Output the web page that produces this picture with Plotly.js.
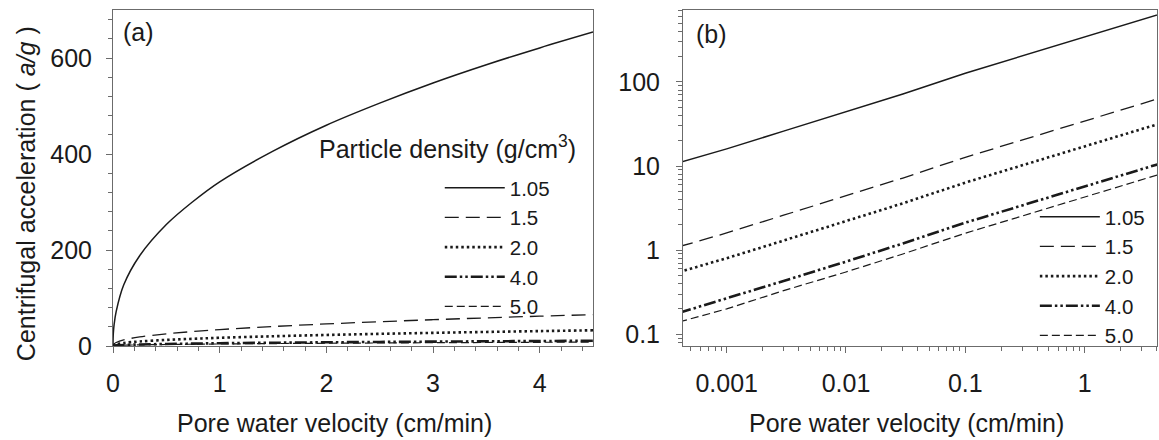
<!DOCTYPE html>
<html>
<head>
<meta charset="utf-8">
<script src="https://cdn.plot.ly/plotly-3.0.1.min.js"></script>
<style>
html,body{margin:0;padding:0;background:#fff;}
#chart{width:1159px;height:440px;}
</style>
</head>
<body>
<div id="chart"></div>
<script>
// Pore water velocity (cm/min)
var velocity = [0, 0.0004, 0.001, 0.003, 0.01, 0.03, 0.1, 0.25, 0.5, 0.75, 1, 1.5, 2, 2.5, 3, 3.5, 4, 4.5];
// Centrifugal acceleration (a/g) for each particle density (g/cm3)
var acc105 = [0, 11, 16, 26, 44, 72, 127, 188, 253, 301, 342, 406, 460, 506, 548, 586, 621, 654];
var acc15  = [0, 1.1, 1.6, 2.6, 4.4, 7.2, 12.7, 18.8, 25.3, 30.1, 34.2, 40.6, 46, 50.6, 54.8, 58.6, 62.1, 65.4];
var acc20  = [0, 0.55, 0.8, 1.3, 2.2, 3.6, 6.35, 9.4, 12.65, 15.05, 17.1, 20.3, 23, 25.3, 27.4, 29.3, 31.05, 32.7];
var acc40  = [0, 0.18, 0.27, 0.43, 0.73, 1.2, 2.12, 3.13, 4.22, 5.02, 5.7, 6.77, 7.67, 8.43, 9.13, 9.77, 10.35, 10.9];
var acc50  = [0, 0.14, 0.2, 0.33, 0.55, 0.9, 1.59, 2.35, 3.16, 3.76, 4.28, 5.08, 5.75, 6.33, 6.85, 7.33, 7.76, 8.18];
var densityLabels = ["1.05", "1.5", "2.0", "4.0", "5.0"];

// Tick labels
var xLogTickVals = [0.001, 0.01, 0.1, 1];
var xLogTickText = ["0.001", "0.01", "0.1", "1"];
var yLogTickVals = [0.1, 1, 10, 100];
var yLogTickText = ["0.1", "1", "10", "100"];

var series = [acc105, acc15, acc20, acc40, acc50];
var styles = [
  {width: 1.5, dash: "solid"},
  {width: 1.3, dash: "14px,7px"},
  {width: 2.6, dash: "2.5px,3px"},
  {width: 2.6, dash: "12px,3px,2.5px,3px,2.5px,3px"},
  {width: 1.2, dash: "8px,4px"}
];
var ink = "#1a1a1a";
var frame = "#6b6b6b";
var fam = "Liberation Sans, Arial, sans-serif";

var traces = [];
for (var i = 0; i < series.length; i++) {
  traces.push({
    x: velocity, y: series[i], type: "scatter", mode: "lines",
    name: densityLabels[i], xaxis: "x", yaxis: "y", legend: "legend",
    line: {color: ink, width: styles[i].width, dash: styles[i].dash, shape: "spline", smoothing: 1},
    hoverinfo: "skip"
  });
}
for (var j = 0; j < series.length; j++) {
  traces.push({
    x: velocity.slice(1), y: series[j].slice(1), type: "scatter", mode: "lines",
    name: densityLabels[j], xaxis: "x2", yaxis: "y2", legend: "legend2",
    line: {color: ink, width: styles[j].width, dash: styles[j].dash},
    hoverinfo: "skip"
  });
}

function logMinor(lo, hi) {
  var out = [];
  for (var e = lo; e <= hi; e++) {
    for (var m = 2; m <= 9; m++) out.push(m * Math.pow(10, e));
  }
  return out;
}

var tickFont = {family: fam, size: 25, color: ink};
var titleFont = {family: fam, size: 25, color: ink};
var legFont = {family: fam, size: 20.5, color: ink};

var common = {
  showline: true, linecolor: frame, linewidth: 1, mirror: true,
  ticks: "outside", ticklen: 6, tickwidth: 1, tickcolor: frame,
  showgrid: false, zeroline: false, tickfont: tickFont
};

var layout = {
  width: 1159, height: 440,
  margin: {l: 113, r: 2, t: 10, b: 94},
  paper_bgcolor: "#fff", plot_bgcolor: "#fff",
  showlegend: true,
  xaxis: Object.assign({}, common, {
    domain: [0, 0.4598], range: [0, 4.5], dtick: 1, tick0: 0,
    minor: {dtick: 0.2, ticklen: 4, tickcolor: frame, ticks: "outside", showgrid: false},
    ticklabelstandoff: 9
  }),
  yaxis: Object.assign({}, common, {
    domain: [0, 1], range: [0, 700], dtick: 200, tick0: 0,
    minor: {dtick: 40, ticklen: 4, tickcolor: frame, ticks: "outside", showgrid: false},
    ticklabelstandoff: 9
  }),
  xaxis2: Object.assign({}, common, {
    anchor: "y2", domain: [0.546, 1], type: "log", range: [-3.366, 0.607],
    tickmode: "array", tickvals: xLogTickVals, ticktext: xLogTickText,
    minor: {tickmode: "array", tickvals: logMinor(-4, 0), ticklen: 4, tickcolor: frame, ticks: "outside", showgrid: false},
    ticklabelstandoff: 9
  }),
  yaxis2: Object.assign({}, common, {
    anchor: "x2", domain: [0, 1], type: "log", range: [-1.14, 2.855],
    tickmode: "array", tickvals: yLogTickVals, ticktext: yLogTickText,
    minor: {tickmode: "array", tickvals: logMinor(-2, 2), ticklen: 4, tickcolor: frame, ticks: "outside", showgrid: false},
    ticklabelstandoff: 11
  }),
  legend: {
    x: 0.313, xanchor: "left", y: 0.5298, yanchor: "top",
    bgcolor: "rgba(0,0,0,0)", borderwidth: 0, font: legFont,
    itemwidth: 60, tracegroupgap: 0
  },
  legend2: {
    x: 0.883, xanchor: "left", y: 0.4435, yanchor: "top",
    bgcolor: "rgba(0,0,0,0)", borderwidth: 0, font: legFont,
    itemwidth: 60, tracegroupgap: 0
  },
  annotations: [
    {text: "(a)", xref: "paper", yref: "paper", x: 0.0076, y: 0.935, xanchor: "left", yanchor: "middle",
     showarrow: false, font: titleFont},
    {text: "(b)", xref: "paper", yref: "paper", x: 0.5565, y: 0.929, xanchor: "left", yanchor: "middle",
     showarrow: false, font: titleFont},
    {text: "Particle density (g/cm<sup>3</sup>)", xref: "paper", yref: "paper", x: 0.1954, y: 0.592,
     xanchor: "left", yanchor: "middle", showarrow: false, font: titleFont},
    {text: "Centrifugal acceleration ( <i>a/g</i> )", xref: "paper", yref: "paper", x: -0.0833, y: 0.452,
     xanchor: "center", yanchor: "middle", textangle: -90, showarrow: false, font: titleFont},
    {text: "Pore water velocity (cm/min)", xref: "paper", yref: "paper", x: 0.2117, y: -0.229,
     xanchor: "center", yanchor: "middle", showarrow: false, font: titleFont},
    {text: "Pore water velocity (cm/min)", xref: "paper", yref: "paper", x: 0.7596, y: -0.229,
     xanchor: "center", yanchor: "middle", showarrow: false, font: titleFont}
  ]
};

Plotly.newPlot("chart", traces, layout, {displayModeBar: false, staticPlot: true});
</script>
</body>
</html>
